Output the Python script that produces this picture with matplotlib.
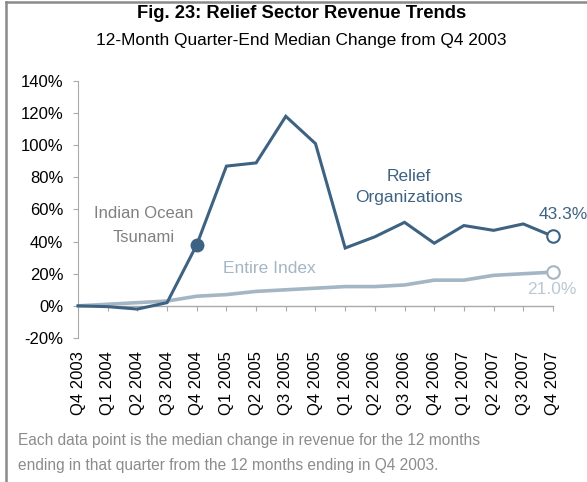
import matplotlib.pyplot as plt
from matplotlib.lines import Line2D

plt.rcParams['font.family'] = ['Liberation Sans', 'DejaVu Sans']

#%% DATA

quarters = ["Q4 2003", "Q1 2004", "Q2 2004", "Q3 2004", "Q4 2004", "Q1 2005",
            "Q2 2005", "Q3 2005", "Q4 2005", "Q1 2006", "Q2 2006", "Q3 2006",
            "Q4 2006", "Q1 2007", "Q2 2007", "Q3 2007", "Q4 2007"]
relief = [0, -0.5, -2, 2, 38, 87, 89, 118, 101, 36, 43, 52, 39, 50, 47, 51, 43.3]
index_all = [0, 1, 2, 3, 6, 7, 9, 10, 11, 12, 12, 13, 16, 16, 19, 20, 21.0]
yticks = [-20, 0, 20, 40, 60, 80, 100, 120, 140]

dark = "#3e6282"
light = "#a4b6c4"
grey_txt = "#808080"

#%% FIGURE

fig = plt.figure(figsize=(5.87, 4.82), dpi=100)
ax = fig.add_axes([0.1329, 0.2988, 0.942 - 0.1329, 0.832 - 0.2988])

# spine setup first (set_position resets the ticks)
for s in ["top", "right"]:
    ax.spines[s].set_visible(False)
ax.spines["left"].set_color("#aaaaaa")
ax.spines["bottom"].set_position(("data", 0))
ax.spines["bottom"].set_color("#aaaaaa")
ax.spines["bottom"].set_linewidth(1.0)

x = list(range(len(quarters)))
ax.plot(x, index_all, color=light, lw=2.6, solid_capstyle='round', zorder=2)
ax.plot(x, relief, color=dark, lw=2.2, solid_joinstyle='miter', zorder=3)

# tsunami marker and end points
ax.plot(x[4], relief[4], 'o', ms=9, color=dark, zorder=4)
ax.plot(x[-1], relief[-1], 'o', ms=9, mfc='white', mec=dark, mew=1.5, zorder=4)
ax.plot(x[-1], index_all[-1], 'o', ms=9, mfc='white', mec=light, mew=1.5, zorder=4)

ax.set_xlim(0, len(quarters) - 1)
ax.set_ylim(-20, 140)
ax.set_yticks(yticks)
ax.set_yticklabels([f"{v}%" for v in yticks], fontsize=12)
ax.set_xticks(x)
ax.set_xticklabels(quarters, rotation=90, fontsize=12, va='top')
ax.tick_params(axis='y', length=3.5, color="#aaaaaa", pad=7)
ax.tick_params(axis='x', length=3.5, color="#aaaaaa", pad=29)
for ln in ax.lines:
    ln.set_clip_on(False)

# annotations
ax.text(2.2, 50, "Indian Ocean\nTsunami", color=grey_txt, fontsize=12,
        ha='center', va='center', linespacing=1.7)
ax.text(11.15, 74, "Relief\nOrganizations", color=dark, fontsize=12.5,
        ha='center', va='center', linespacing=1.5)
ax.text(6.45, 23, "Entire Index", color=light, fontsize=12.5,
        ha='center', va='center')
ax.text(16.35, 57, "43.3%", color=dark, fontsize=12.5, ha='center', va='center')
ax.text(15.95, 10, "21.0%", color="#b9c8d3", fontsize=12.5, ha='center', va='center')

# titles and footnote
fig.text(0.513, 0.971, "Fig. 23: Relief Sector Revenue Trends", ha='center', va='center',
         fontsize=13.2, fontweight='bold')
fig.text(0.513, 0.917, "12-Month Quarter-End Median Change from Q4 2003", ha='center',
         va='center', fontsize=12.4)
fig.text(0.03, 0.060, "Each data point is the median change in revenue for the 12 months\n"
         "ending in that quarter from the 12 months ending in Q4 2003.",
         ha='left', va='center', fontsize=11.2, color="#8c8c8c", linespacing=1.85)

# frame lines (top and left only)
fig.add_artist(Line2D([0.011, 0.011], [0, 0.996], color="#8a8a8a", lw=1.8,
                      transform=fig.transFigure))
fig.add_artist(Line2D([0.011, 1], [0.996, 0.996], color="#8a8a8a", lw=1.8,
                      transform=fig.transFigure))

plt.savefig("out.png", dpi=100)
